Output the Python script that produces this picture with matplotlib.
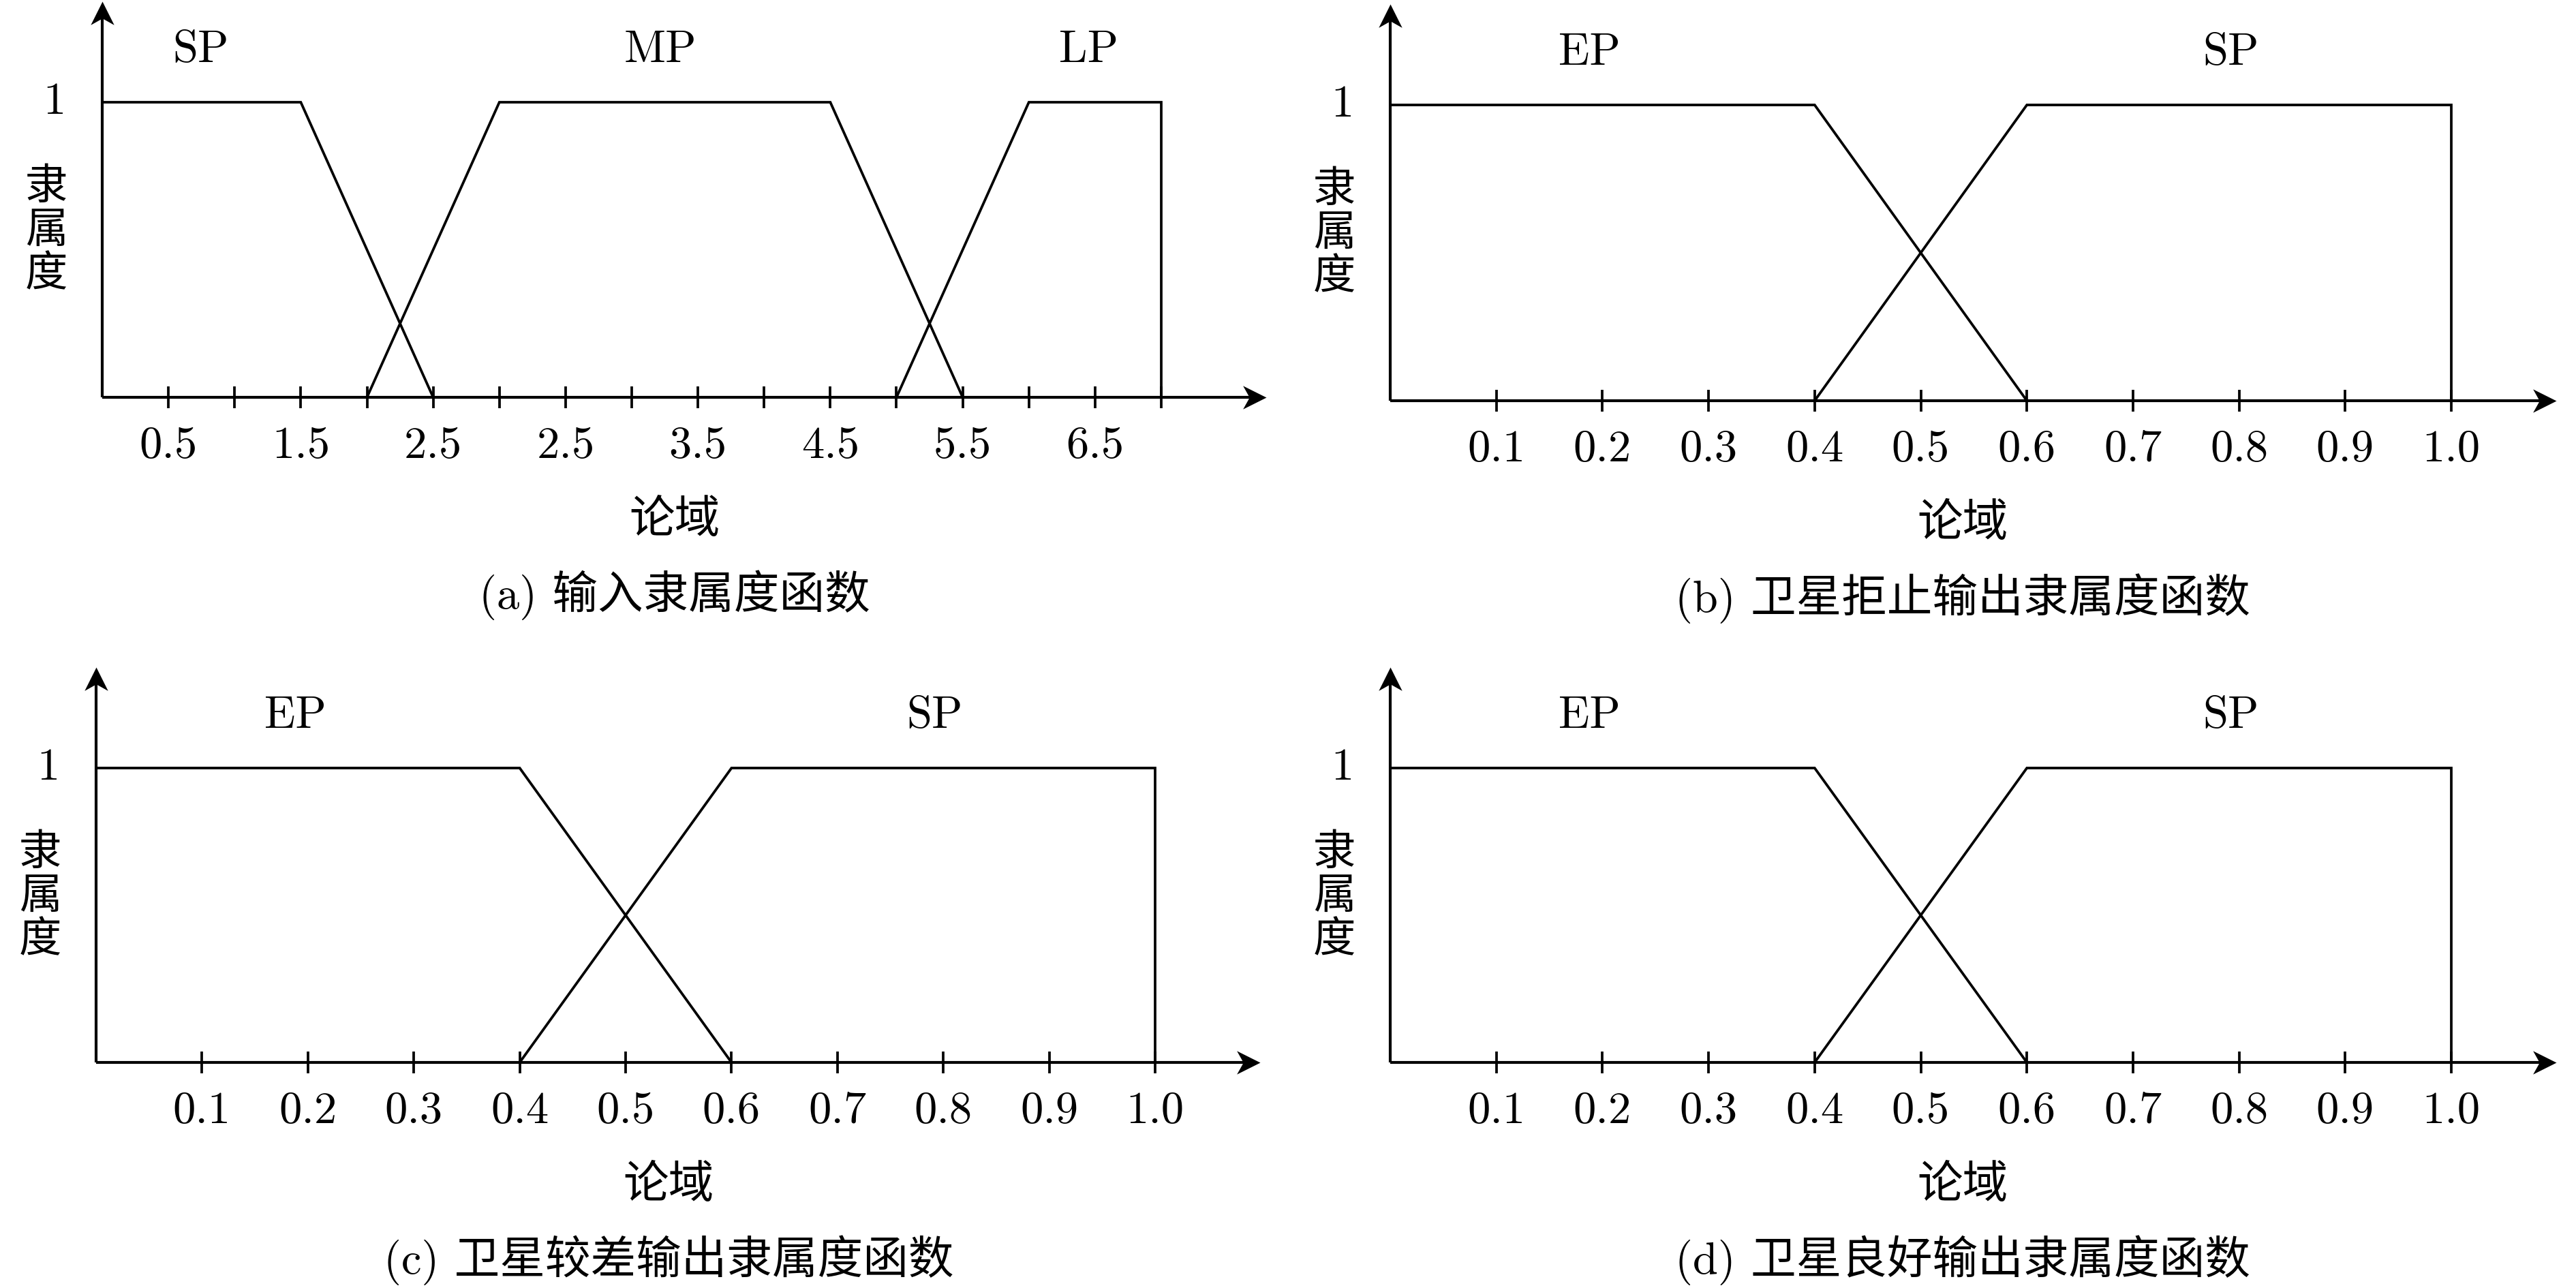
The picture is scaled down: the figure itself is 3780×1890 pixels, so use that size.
import matplotlib
matplotlib.use("Agg")
import matplotlib.pyplot as plt
from matplotlib.path import Path

# ---- data ----
# panel (a): positions are counted in tick steps along the axis
in_ticks = list(range(1, 17))
in_label_pos = [1, 3, 5, 7, 9, 11, 13, 15]
in_labels = ['0.5', '1.5', '2.5', '2.5', '3.5', '4.5', '5.5', '6.5']
sp_in_x = [0, 3, 5]
sp_in_y = [1, 1, 0]
mp_in_x = [4, 6, 11, 13]
mp_in_y = [0, 1, 1, 0]
lp_in_x = [12, 14, 16, 16]
lp_in_y = [0, 1, 1, 0]
in_names = ['SP', 'MP', 'LP']
in_name_x = [1.49, 8.43, 14.9]

# panels (b)(c)(d): output membership functions
out_ticks = [0.1, 0.2, 0.3, 0.4, 0.5, 0.6, 0.7, 0.8, 0.9, 1.0]
out_labels = ['0.1', '0.2', '0.3', '0.4', '0.5', '0.6', '0.7', '0.8', '0.9', '1.0']
ep_x = [0, 0.4, 0.6]
ep_y = [1, 1, 0]
sp_x = [0.4, 0.6, 1.0, 1.0]
sp_y = [0, 1, 1, 0]
out_names = ['EP', 'SP']
out_name_x = [0.188, 0.792]

captions = ['(a) 输入隶属度函数', '(b) 卫星拒止输出隶属度函数',
            '(c) 卫星较差输出隶属度函数', '(d) 卫星良好输出隶属度函数']

W, H, DPI = 3780, 1890, 300
fig = plt.figure(figsize=(W / DPI, H / DPI), dpi=DPI)

LATIN = ['cmr10', 'Noto Sans CJK SC']
CJK = ['Noto Sans CJK SC', 'DejaVu Sans']
FS_L = 16
FS_C = 15
FS_CAP = 16
LW = 0.9

# arrow heads with a concave back, tip at the origin
right_head = Path([(0, 0), (-1, 0.5), (-0.72, 0), (-1, -0.5), (0, 0)],
                  [Path.MOVETO, Path.LINETO, Path.LINETO, Path.LINETO, Path.CLOSEPOLY])
up_head = Path([(0, 0), (0.5, -1), (0, -0.72), (-0.5, -1), (0, 0)],
               [Path.MOVETO, Path.LINETO, Path.LINETO, Path.LINETO, Path.CLOSEPOLY])


def panel(ox, oy, px_x, px_y, xspan, lines, ticks, label_pos, labels,
          names, name_x, caption):
    # ox, oy: origin in pixels from top-left; px_x: pixels for xspan units
    ax = fig.add_axes([ox / W, 1 - oy / H, px_x / W, px_y / H])
    ax.set_xlim(0, xspan)
    ax.set_ylim(0, 1)
    ax.axis('off')
    ux = xspan / px_x   # data units per pixel
    uy = 1.0 / px_y

    xtip = xspan + 154 * ux
    ytip = 1 + 148 * uy
    ax.plot([0, xtip - 20 * ux], [0, 0], color='black', lw=1.0,
            solid_capstyle='butt', clip_on=False)
    ax.plot([0, 0], [0, ytip - 20 * uy], color='black', lw=1.0,
            solid_capstyle='butt', clip_on=False)
    ax.plot([xtip], [0], marker=right_head, ms=16.5, color='black',
            mew=0, clip_on=False)
    ax.plot([0], [ytip], marker=up_head, ms=16.5, color='black',
            mew=0, clip_on=False)

    ax.vlines(ticks, -16 * uy, 16 * uy, color='black', lw=LW, clip_on=False)

    for xs, ys in lines:
        ax.plot(xs, ys, color='black', lw=LW, clip_on=False,
                solid_joinstyle='miter')

    for p, t in zip(label_pos, labels):
        ax.text(p, -72 * uy, t, ha='center', va='center', fontsize=FS_L,
                family=LATIN)
    for nx, t in zip(name_x, names):
        ax.text(nx, 1 + 76 * uy, t, ha='center', va='center', fontsize=FS_L,
                family=LATIN)

    ax.text(-70 * ux, 1, '1', ha='center', va='center', fontsize=FS_L,
            family=LATIN)
    for k, ch in enumerate('隶属度'):
        ax.text(-82 * ux, 1 - (124 + 64 * k) * uy, ch, ha='center',
                va='center', fontsize=FS_C, family=CJK)

    mid = (840 / px_x) * xspan
    ax.text(mid, -180 * uy, '论域', ha='center', va='center', fontsize=FS_CAP,
            family=CJK)
    ax.text(mid, -290 * uy, caption, ha='center', va='center',
            fontsize=FS_CAP, family=LATIN)


in_lines = [(sp_in_x, sp_in_y), (mp_in_x, mp_in_y), (lp_in_x, lp_in_y)]
out_lines = [(ep_x, ep_y), (sp_x, sp_y)]

panel(150, 583, 1554, 433, 16, in_lines, in_ticks, in_label_pos, in_labels,
      in_names, in_name_x, captions[0])
panel(2040, 588, 1557, 434, 1.0, out_lines, out_ticks, out_ticks, out_labels,
      out_names, out_name_x, captions[1])
panel(141, 1559, 1554, 432, 1.0, out_lines, out_ticks, out_ticks, out_labels,
      out_names, out_name_x, captions[2])
panel(2040, 1559, 1557, 432, 1.0, out_lines, out_ticks, out_ticks, out_labels,
      out_names, out_name_x, captions[3])

fig.savefig('out.png', dpi=DPI, facecolor='white')
